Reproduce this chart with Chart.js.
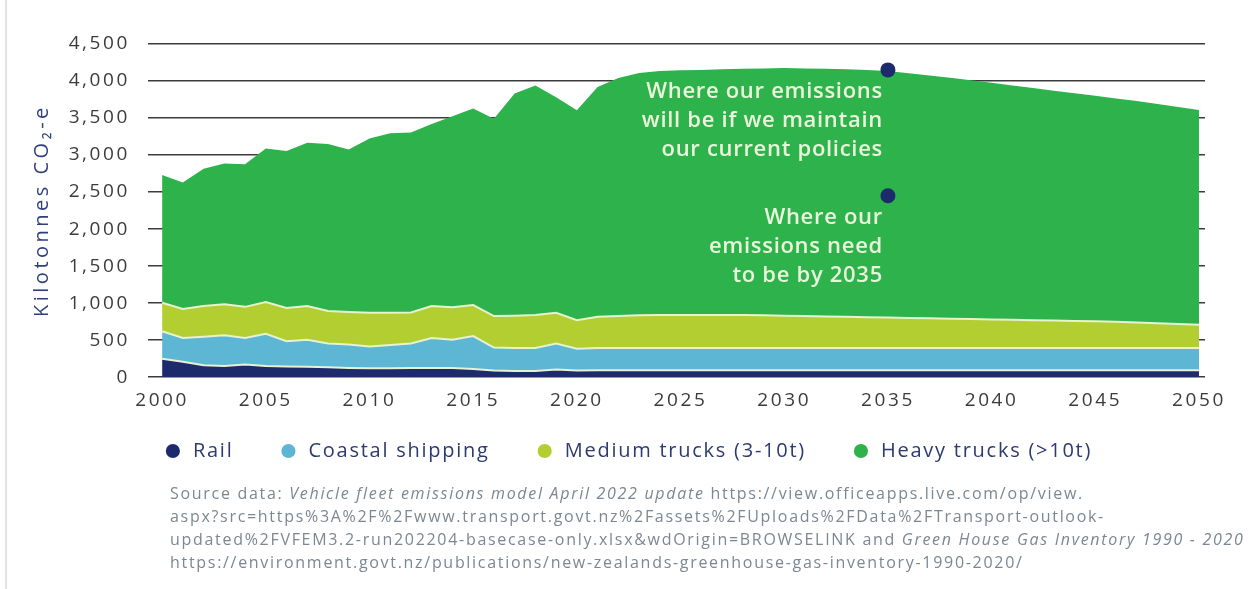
<!DOCTYPE html>
<html>
<head>
<meta charset="utf-8">
<script src="https://cdn.jsdelivr.net/npm/chart.js@4.4.1/dist/chart.umd.min.js"></script>
<style>
  html, body { margin: 0; padding: 0; background: #fff; }
  #wrap { position: relative; width: 1255px; height: 589px; overflow: hidden; }
  #wrap .edge { position: absolute; left: 5px; top: 0; bottom: 0; width: 2px; background: #e3e3e3; }
  #chart { position: absolute; left: 0; top: 0; }
  #source {
    position: absolute; left: 170px; top: 482px;
    font-family: "Open Sans", sans-serif; font-size: 16px; line-height: 23px;
    letter-spacing: 1.7px; color: #7c8792; white-space: nowrap;
  }
  #source i { font-style: italic; }
</style>
</head>
<body>
<div id="wrap">
  <div class="edge"></div>
  <canvas id="chart" width="1255" height="589"></canvas>
  <div id="source">
    <div>Source data: <i>Vehicle fleet emissions model April 2022 update</i> https://view.officeapps.live.com/op/view.</div>
    <div>aspx?src=https%3A%2F%2Fwww.transport.govt.nz%2Fassets%2FUploads%2FData%2FTransport-outlook-</div>
    <div>updated%2FVFEM3.2-run202204-basecase-only.xlsx&amp;wdOrigin=BROWSELINK and <i>Green House Gas Inventory 1990 - 2020</i></div>
    <div>https://environment.govt.nz/publications/new-zealands-greenhouse-gas-inventory-1990-2020/</div>
  </div>
</div>
<script>
// Freight transport emissions by mode, kilotonnes CO2-e (stacked)
const years = [2000, 2001, 2002, 2003, 2004, 2005, 2006, 2007, 2008, 2009,
               2010, 2011, 2012, 2013, 2014, 2015, 2016, 2017, 2018, 2019,
               2020, 2021, 2022, 2023, 2024, 2025, 2026, 2027, 2028, 2029,
               2030, 2031, 2032, 2033, 2034, 2035, 2036, 2037, 2038, 2039,
               2040, 2041, 2042, 2043, 2044, 2045, 2046, 2047, 2048, 2049, 2050];

const rail = [250, 210, 160, 150, 170, 150, 145, 140, 135, 125,
              120, 120, 125, 125, 125, 110, 90, 85, 85, 105,
              90, 95, 95, 95, 95, 95, 95, 95, 95, 95,
              95, 95, 95, 95, 95, 95, 95, 95, 95, 95,
              95, 95, 95, 95, 95, 95, 95, 95, 95, 95, 95];

const coastalShipping = [370, 320, 385, 415, 360, 435, 340, 365, 320, 315,
                         295, 315, 330, 405, 380, 445, 310, 310, 310, 350,
                         295, 300, 300, 300, 300, 300, 300, 300, 300, 300,
                         300, 300, 300, 300, 300, 300, 300, 300, 300, 300,
                         300, 300, 300, 300, 300, 300, 300, 300, 300, 300, 300];

const mediumTrucks = [385, 390, 415, 420, 420, 430, 450, 455, 440, 440,
                      455, 435, 420, 430, 440, 420, 425, 435, 445, 415,
                      385, 420, 430, 440, 445, 445, 445, 445, 445, 440,
                      435, 430, 425, 420, 415, 410, 405, 400, 395, 390,
                      385, 380, 375, 370, 365, 360, 355, 345, 335, 325, 315];

const heavyTrucks = [1725, 1710, 1855, 1900, 1925, 2075, 2120, 2205, 2255, 2195,
                     2355, 2425, 2430, 2460, 2580, 2655, 2665, 3000, 3100, 2910,
                     2835, 3105, 3215, 3275, 3295, 3305, 3310, 3320, 3325, 3335,
                     3345, 3345, 3345, 3345, 3340, 3330, 3305, 3280, 3255, 3225,
                     3195, 3165, 3135, 3105, 3075, 3045, 3015, 2990, 2960, 2930, 2900];

const seriesNames = ['Rail', 'Coastal shipping', 'Medium trucks (3-10t)', 'Heavy trucks (>10t)'];
const seriesColors = ['#1d2b6c', '#5db6d3', '#b3ce30', '#2eb24b'];

const xTicks = [2000, 2005, 2010, 2015, 2020, 2025, 2030, 2035, 2040, 2045, 2050];
const yTicks = [0, 500, 1000, 1500, 2000, 2500, 3000, 3500, 4000, 4500];

// Callout markers: current-policy path vs. 2035 target
const markerYears = [2035, 2035];
const markerValues = [4150, 2450];
const markerText = [
  ['Where our emissions', 'will be if we maintain', 'our current policies'],
  ['Where our', 'emissions need', 'to be by 2035']
];

const FONT = '"Open Sans", sans-serif';
const LEGEND_TEXT_Y = 451;
const seriesValues = [rail, coastalShipping, mediumTrucks, heavyTrucks];

const datasets = seriesValues.map((vals, i) => ({
  type: 'line',
  label: seriesNames[i],
  data: years.map((yr, j) => ({ x: yr, y: vals[j] })),
  backgroundColor: seriesColors[i],
  borderColor: i < 3 ? '#e6f2d2' : 'rgba(0,0,0,0)',
  borderWidth: i < 3 ? 2 : 0,
  fill: i === 0 ? 'origin' : '-1',
  pointRadius: 0,
  pointHoverRadius: 0,
  tension: 0,
  stack: 'freight'
}));

datasets.push({
  type: 'scatter',
  label: 'markers',
  data: markerYears.map((yr, i) => ({ x: yr, y: markerValues[i] })),
  backgroundColor: '#1d2b6c',
  borderWidth: 0,
  pointRadius: 7.5,
  pointHoverRadius: 7.5,
  stack: 'markers',
  order: -1
});

// Wraps a drawing/measuring method so its text uses wider tracking
function withTracking(obj, name, spacing) {
  const orig = obj && obj[name];
  if (!orig || orig._tracked) return;
  const fn = function (...args) {
    const ctx = this.ctx;
    const prev = ctx.letterSpacing;
    ctx.letterSpacing = spacing;
    try { return orig.apply(this, args); } finally { ctx.letterSpacing = prev; }
  };
  fn._tracked = true;
  obj[name] = fn;
}

const typography = {
  id: 'typography',
  beforeLayout(chart) {
    withTracking(chart.legend, 'fit', '1.75px');
    withTracking(chart.legend, 'draw', '1.75px');
  },
  afterLayout(chart) {
    withTracking(chart.scales.x, 'drawLabels', '2.6px');
    withTracking(chart.scales.y, 'drawLabels', '2.6px');
    withTracking(chart.scales.y, 'drawTitle', '3.5px');
    // legend row sits closer to the axis labels than its padding would allow
    const lg = chart.legend;
    const pad = lg.options.labels.padding;
    const top = LEGEND_TEXT_Y - pad - lg.options.labels.font.size / 2;
    lg.bottom = top + lg.height;
    lg.top = top;
  }
};

const callouts = {
  id: 'callouts',
  afterDatasetsDraw(chart) {
    const meta = chart.getDatasetMeta(4);
    const ctx = chart.ctx;
    ctx.save();
    ctx.font = '600 22px ' + FONT;
    ctx.letterSpacing = '0.7px';
    ctx.fillStyle = '#eaf6dc';
    ctx.textAlign = 'right';
    ctx.textBaseline = 'middle';
    meta.data.forEach((pt, i) => {
      markerText[i].forEach((line, k) => {
        ctx.fillText(line, pt.x - 5, pt.y + 21.5 + k * 29);
      });
    });
    ctx.restore();
  }
};

new Chart(document.getElementById('chart'), {
  data: { datasets },
  plugins: [typography, callouts],
  options: {
    responsive: false,
    animation: false,
    events: [],
    layout: { padding: { left: 0, right: 0, top: 44, bottom: 90 } },
    plugins: {
      tooltip: { enabled: false },
      legend: {
        position: 'bottom',
        labels: {
          usePointStyle: true,
          pointStyle: 'circle',
          boxHeight: 10,
          padding: 45,
          color: '#2c3a70',
          font: { family: FONT, size: 20 },
          filter: item => item.datasetIndex < 4,
          generateLabels(chart) {
            return Chart.defaults.plugins.legend.labels.generateLabels(chart).map(item => {
              item.strokeStyle = item.fillStyle;
              item.lineWidth = 0;
              item.pointStyle = 'circle';
              return item;
            });
          }
        }
      }
    },
    scales: {
      x: {
        type: 'linear',
        min: 1999.32,
        max: 2050.29,
        afterBuildTicks: s => { s.ticks = xTicks.map(v => ({ value: v })); },
        grid: { display: false, drawTicks: false },
        border: { display: false },
        ticks: {
          autoSkip: false, maxRotation: 0, padding: 12,
          color: '#3b3b3b', font: { family: FONT, size: 19 },
          callback: v => String(v)
        }
      },
      y: {
        stacked: true,
        min: 0,
        max: 4500,
        afterBuildTicks: s => { s.ticks = yTicks.map(v => ({ value: v })); },
        afterFit: s => { s.width = 148; },
        grid: { color: '#3c3c3c', lineWidth: 1.6, drawTicks: false },
        border: { display: false },
        ticks: {
          padding: 18, color: '#3b3b3b', font: { family: FONT, size: 19 },
          callback: v => v.toLocaleString('en-US')
        },
        title: {
          display: true,
          text: 'Kilotonnes CO₂-e',
          color: '#2f3f7d',
          font: { family: FONT, size: 20 },
          padding: { top: 30, bottom: 0 }
        }
      },
      yRight: {
        position: 'right',
        display: true,
        afterFit: s => { s.width = 50; },
        grid: { display: false, drawTicks: false },
        border: { display: false },
        ticks: { display: false }
      }
    }
  }
});
</script>
</body>
</html>
